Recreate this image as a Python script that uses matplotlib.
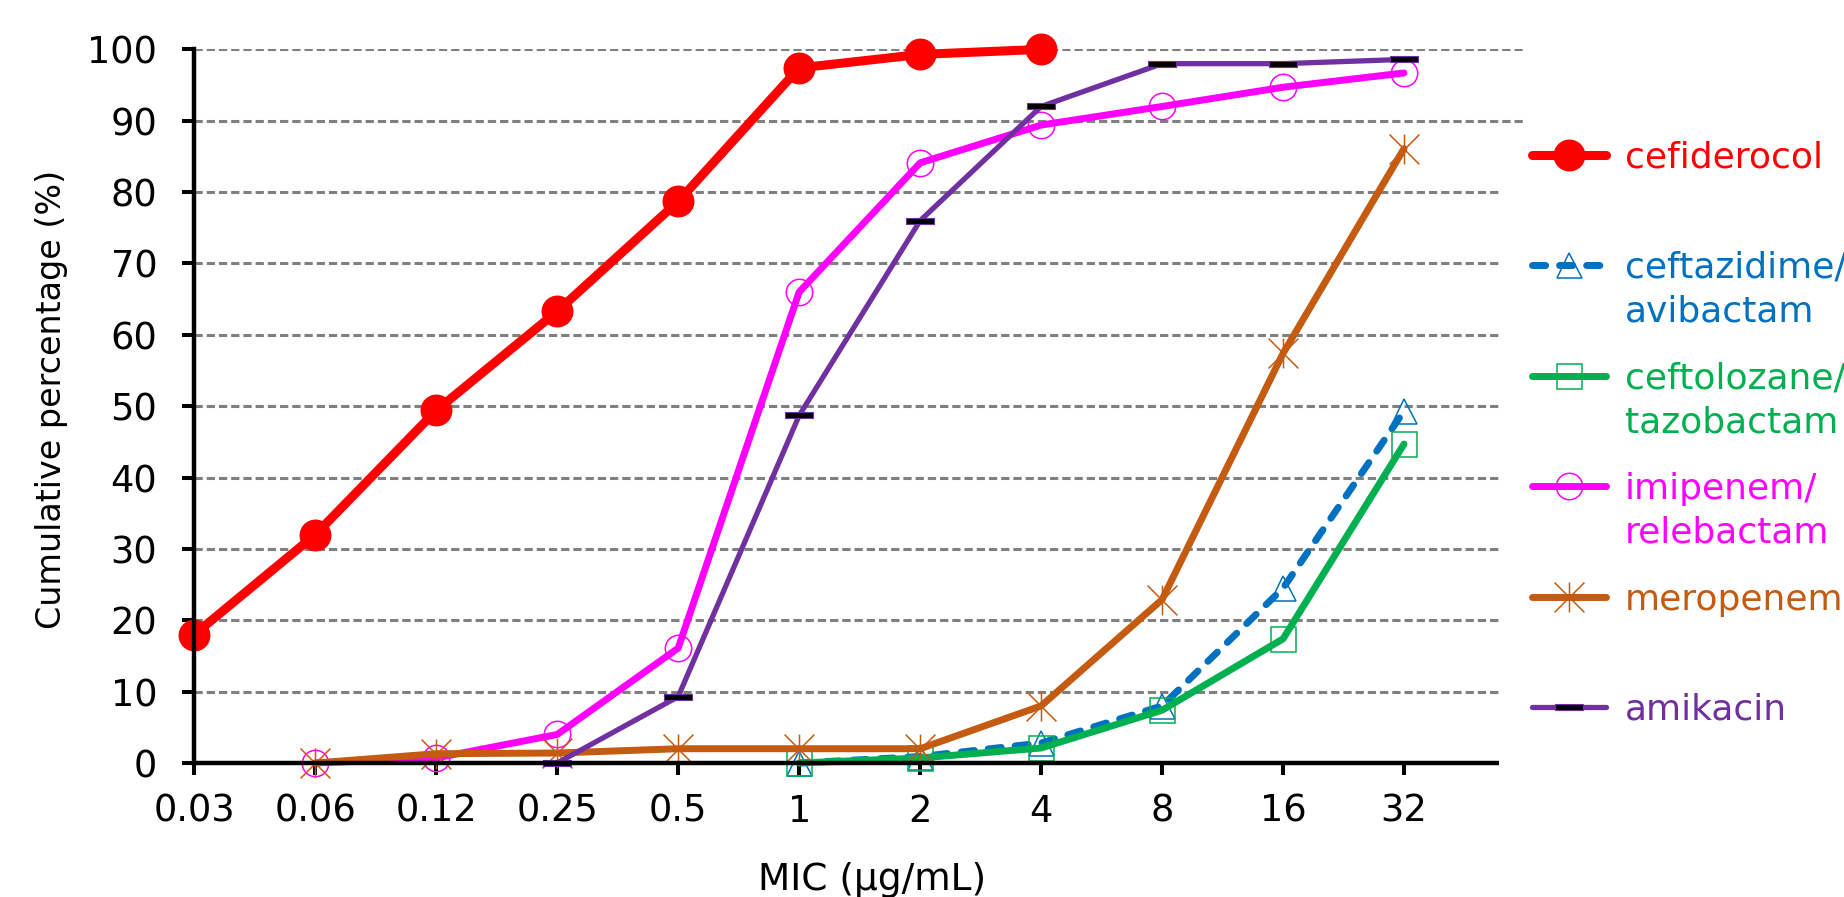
"""
Cumulative MIC distribution chart (line chart, Excel-like style).
"""
import matplotlib
matplotlib.use("Agg")
import matplotlib.pyplot as plt
import numpy as np
from matplotlib.lines import Line2D
from matplotlib.patches import Rectangle
from matplotlib.path import Path

plt.rcParams['font.family'] = ['DejaVu Sans']

nan = np.nan
mic = ['0.03', '0.06', '0.12', '0.25', '0.5', '1', '2', '4', '8', '16', '32']
cefiderocol = [18.0, 32.0, 49.4, 63.3, 78.7, 97.4, 99.3, 100.0, nan, nan, nan]
ceftazidime = [nan, nan, nan, nan, nan, 0.0, 0.9, 2.8, 8.0, 24.5, 49.3]
ceftolozane = [nan, nan, nan, nan, nan, 0.0, 0.7, 2.1, 7.4, 17.4, 44.7]
imipenem = [nan, 0.0, 0.7, 4.0, 16.1, 66.0, 84.1, 89.4, 92.0, 94.7, 96.7]
meropenem = [nan, 0.0, 1.3, 1.4, 2.0, 2.0, 2.0, 8.0, 22.9, 57.4, 86.1]
amikacin = [nan, nan, nan, 0.0, 9.3, 48.7, 76.0, 92.0, 98.0, 98.0, 98.6]

labels = ['cefiderocol', 'ceftazidime/\navibactam', 'ceftolozane/\ntazobactam',
          'imipenem/\nrelebactam', 'meropenem', 'amikacin']

# marker shapes
star = Path([(-1, -1), (1, 1), (-1, 1), (1, -1), (0, -1), (0, 1)],
            [Path.MOVETO, Path.LINETO, Path.MOVETO, Path.LINETO, Path.MOVETO, Path.LINETO])
bar = Path([(-1, -0.22), (1, -0.22), (1, 0.22), (-1, 0.22), (-1, -0.22)],
           [Path.MOVETO, Path.LINETO, Path.LINETO, Path.LINETO, Path.CLOSEPOLY])

styles = [
    dict(color='#FF0000', lw=6.5, marker='o', ms=23, mfc='#FF0000', mec='#FF0000', mew=0),
    dict(color='#0070C0', lw=5, ls=(0, (1.9, 2.0)), dash_capstyle='round',
         marker='^', ms=18, mfc='none', mec='#0070C0', mew=1.1),
    dict(color='#00B050', lw=5, marker='s', ms=18, mfc='none', mec='#00B050', mew=1.1),
    dict(color='#FF00FF', lw=5, marker='o', ms=19, mfc='none', mec='#FF00FF', mew=1.1),
    dict(color='#C55A11', lw=5, marker=star, ms=21.5, mfc='none', mec='#C55A11', mew=1.1),
    dict(color='#7030A0', lw=3.8, marker=bar, ms=19.5, mfc='black', mec='#7030A0', mew=0.8),
]
series = [cefiderocol, ceftazidime, ceftolozane, imipenem, meropenem, amikacin]

W, H = 1844, 897
fig = plt.figure(figsize=(W / 100, H / 100), dpi=100)
ax = fig.add_axes([194.3 / W, 1 - 763 / H, (1525 - 194.3) / W, (763 - 49.4) / H])

x = np.arange(len(mic))
for y, st in zip(series, styles):
    ax.plot(x, y, solid_capstyle='round', solid_joinstyle='round', clip_on=False, **st)

ax.set_xlim(0, 11)
ax.set_ylim(0, 100)
ax.set_xticks(x)
ax.set_xticklabels(mic)
ax.set_yticks(np.arange(0, 101, 10))
for v in range(10, 101, 10):
    ax.axhline(v, color='#808080', lw=2.2, ls=(0, (2.7, 1.3)), zorder=0.5)

for s in ['top', 'right']:
    ax.spines[s].set_visible(False)
for s in ['left', 'bottom']:
    ax.spines[s].set_linewidth(3.2)
ax.tick_params(axis='both', direction='out', length=8.6, width=2.9, labelsize=26.5)
ax.tick_params(axis='y', pad=18)
ax.tick_params(axis='x', pad=13)

ax.set_ylabel('Cumulative percentage (%)', fontsize=24)
ax.yaxis.set_label_coords(-0.095, 0.51)
ax.set_xlabel('MIC (µg/mL)', fontsize=27)
ax.xaxis.set_label_coords(0.509, -0.139)

# legend area (white box covering the right end of the plot area)
fig.add_artist(Rectangle((1499 / W, 0), 1 - 1499 / W, 1 - 125 / H, transform=fig.transFigure,
                         facecolor='white', edgecolor='none', zorder=2))
entry_y = [155, 265, 376, 486, 597, 707]
for yy, lab, st in zip(entry_y, labels, styles):
    fy = 1 - yy / H
    line_kw = {k: v for k, v in st.items() if k not in ('marker', 'ms', 'mfc', 'mec', 'mew')}
    fig.add_artist(Line2D([1532 / W, 1606 / W], [fy, fy], transform=fig.transFigure,
                          solid_capstyle='round', zorder=3, **line_kw))
    mk = {k: v for k, v in st.items() if k in ('marker', 'ms', 'mfc', 'mec', 'mew')}
    fig.add_artist(Line2D([1569 / W], [fy], transform=fig.transFigure, ls='none',
                          zorder=4, **mk))
    for i, part in enumerate(lab.split('\n')):
        fig.text(1625 / W, 1 - (yy + 12.5 + 44 * i) / H, part, color=st['color'],
                 fontsize=26, va='baseline', ha='left', zorder=4)

fig.savefig('out.png', dpi=100)
